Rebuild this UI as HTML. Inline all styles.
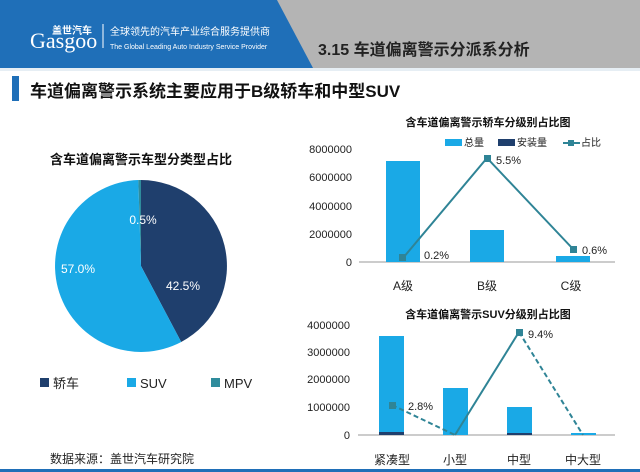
<!DOCTYPE html>
<html><head><meta charset="utf-8"><style>
body{margin:0;width:640px;height:472px;overflow:hidden;background:#fff;font-family:"Liberation Sans","Noto Sans CJK SC",sans-serif;}
</style></head><body>
<svg width="640" height="472" xmlns="http://www.w3.org/2000/svg" style="position:absolute;left:0;top:0" font-family="Liberation Sans, Noto Sans CJK SC, sans-serif">
<rect x="0" y="0" width="640" height="68" fill="#b4b4b4"/>
<polygon points="0,0 277,0 313,68 0,68" fill="#1f6fb8"/>
<rect x="0" y="68" width="640" height="3" fill="#e6eef4"/>
<text x="52" y="34" font-size="10" fill="#fff" font-weight="bold">盖世汽车</text>
<text x="30" y="48" font-size="22" fill="#fff" font-family="Liberation Serif, serif">Gasgoo</text>
<line x1="103" y1="24" x2="103" y2="48" stroke="#fff" stroke-width="1"/>
<text x="110" y="35" font-size="10" fill="#fff">全球领先的汽车产业综合服务提供商</text>
<text x="110" y="49" font-size="7" fill="#fff">The Global Leading Auto Industry Service Provider</text>
<text x="318" y="55" font-size="16" font-weight="bold" fill="#222">3.15 车道偏离警示分派系分析</text>
<rect x="12" y="76" width="7" height="25" fill="#1f6fb8"/>
<text x="30" y="97" font-size="17" font-weight="bold" fill="#111">车道偏离警示系统主要应用于B级轿车和中型SUV</text>
<!-- pie -->
<text x="141" y="164" font-size="13" font-weight="bold" text-anchor="middle" fill="#111">含车道偏离警示车型分类型占比</text>
<g transform="translate(141,266)">
<path d="M0,0 L0,-86 A86,86 0 0,1 40.2,76.0 Z" fill="#1f3f6d"/>
<path d="M0,0 L40.2,76.0 A86,86 0 1,1 -2.7,-86 Z" fill="#1aa9e6"/>
<path d="M0,0 L-2.7,-86 A86,86 0 0,1 0,-86 Z" fill="#2f8c9c"/>
</g>
<text x="143" y="224" font-size="12" fill="#fff" text-anchor="middle">0.5%</text>
<text x="78" y="273" font-size="12" fill="#fff" text-anchor="middle">57.0%</text>
<text x="183" y="290" font-size="12" fill="#fff" text-anchor="middle">42.5%</text>
<rect x="40" y="378" width="9" height="9" fill="#1f3f6d"/><text x="53" y="388" font-size="13" fill="#222">轿车</text>
<rect x="127" y="378" width="9" height="9" fill="#1aa9e6"/><text x="140" y="388" font-size="13" fill="#222">SUV</text>
<rect x="211" y="378" width="9" height="9" fill="#2f8c9c"/><text x="224" y="388" font-size="13" fill="#222">MPV</text>
<text x="50" y="463" font-size="12" fill="#222">数据来源：盖世汽车研究院</text>
<!-- chart1 -->
<text x="488" y="126" font-size="11" font-weight="bold" text-anchor="middle" fill="#111">含车道偏离警示轿车分级别占比图</text>
<rect x="445" y="139" width="17" height="7" fill="#1aa9e6"/><text x="464" y="146" font-size="10" fill="#222">总量</text>
<rect x="498" y="139" width="17" height="7" fill="#1f3f6d"/><text x="517" y="146" font-size="10" fill="#222">安装量</text>
<line x1="563" y1="143" x2="580" y2="143" stroke="#2f8496" stroke-width="2"/><rect x="568" y="140" width="6" height="6" fill="#2f8496"/><text x="581" y="146" font-size="10" fill="#222">占比</text>
<g font-size="11" fill="#222" text-anchor="end">
<text x="352" y="153">8000000</text><text x="352" y="181">6000000</text><text x="352" y="210">4000000</text><text x="352" y="238">2000000</text><text x="352" y="266">0</text>
</g>
<line x1="359" y1="262" x2="615" y2="262" stroke="#999"/>
<rect x="386" y="161" width="34" height="101" fill="#1aa9e6"/>
<rect x="470" y="230" width="34" height="32" fill="#1aa9e6"/>
<rect x="556" y="256" width="34" height="6" fill="#1aa9e6"/>
<polyline points="403,258 487,158 573,249" fill="none" stroke="#2f8496" stroke-width="2"/>
<rect x="399" y="254" width="7" height="7" fill="#2f8496"/><rect x="484" y="155" width="7" height="7" fill="#2f8496"/><rect x="570" y="246" width="7" height="7" fill="#2f8496"/>
<g font-size="11" fill="#222"><text x="424" y="259">0.2%</text><text x="496" y="164">5.5%</text><text x="582" y="254">0.6%</text></g>
<g font-size="12" fill="#222" text-anchor="middle"><text x="403" y="290">A级</text><text x="487" y="290">B级</text><text x="571" y="290">C级</text></g>
<!-- chart2 -->
<text x="488" y="318" font-size="11" font-weight="bold" text-anchor="middle" fill="#111">含车道偏离警示SUV分级别占比图</text>
<g font-size="11" fill="#222" text-anchor="end">
<text x="350" y="329">4000000</text><text x="350" y="356">3000000</text><text x="350" y="383">2000000</text><text x="350" y="411">1000000</text><text x="350" y="439">0</text>
</g>
<line x1="358" y1="435" x2="615" y2="435" stroke="#999"/>
<rect x="379" y="336" width="25" height="99" fill="#1aa9e6"/><rect x="379" y="432" width="25" height="3" fill="#1f3f6d"/>
<rect x="443" y="388" width="25" height="47" fill="#1aa9e6"/>
<rect x="507" y="407" width="25" height="28" fill="#1aa9e6"/><rect x="507" y="433" width="25" height="2" fill="#1f3f6d"/>
<rect x="571" y="433" width="25" height="2" fill="#1aa9e6"/>
<line x1="392" y1="405" x2="455" y2="435" stroke="#2f8496" stroke-width="2" stroke-dasharray="5,3"/>
<line x1="455" y1="435" x2="519" y2="332" stroke="#2f8496" stroke-width="2"/>
<line x1="519" y1="332" x2="583" y2="435" stroke="#2f8496" stroke-width="2" stroke-dasharray="5,3"/>
<rect x="389" y="402" width="7" height="7" fill="#2f8496"/><rect x="516" y="329" width="7" height="7" fill="#2f8496"/>
<g font-size="11" fill="#222"><text x="408" y="410">2.8%</text><text x="528" y="338">9.4%</text></g>
<g font-size="12" fill="#222" text-anchor="middle"><text x="392" y="464">紧凑型</text><text x="455" y="464">小型</text><text x="519" y="464">中型</text><text x="583" y="464">中大型</text></g>
<rect x="0" y="469" width="640" height="3" fill="#1f6fb8"/>
</svg>
</body></html>
